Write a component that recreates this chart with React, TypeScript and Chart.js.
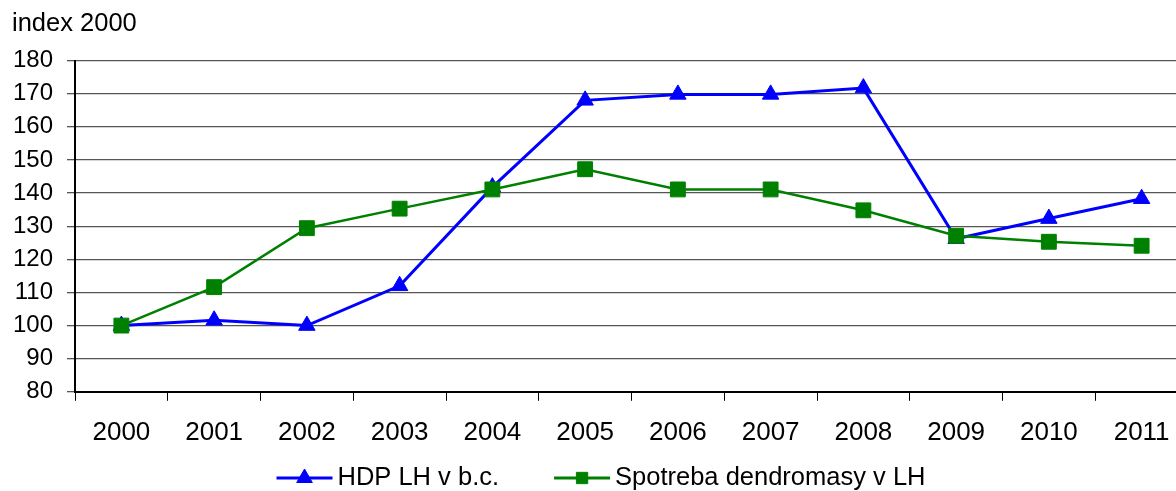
import React, { useEffect, useRef } from 'react';
import { Chart, registerables } from 'chart.js';
import { drawPoint } from 'chart.js/helpers';

Chart.register(...registerables);

// ---- data ----
const years = ['2000', '2001', '2002', '2003', '2004', '2005', '2006', '2007', '2008', '2009', '2010', '2011'];
const hdpValues = [100, 101.6, 100, 112, 141.8, 168, 169.8, 169.8, 171.7, 126.2, 132.3, 138.3];
const dendroValues = [100, 111.6, 129.4, 135.3, 141.1, 147.2, 141.1, 141.1, 134.8, 127.1, 125.3, 124.1];
const seriesLabels = ['HDP LH v b.c.', 'Spotreba dendromasy v LH'];
const axisTitle = 'index 2000';
const yMin = 80;
const yMax = 180;
const yStep = 10;

const FONT = "'Liberation Sans', Arial, sans-serif";
const BLUE = '#0000ff';
const GREEN = '#008000';

const LEGEND_CENTER_X = 601;
const LEGEND_Y = 478;
const legendMarkerRadius = [9, 8];

const lineLegend = {
  id: 'lineLegend',
  afterDraw(chart: any) {
    const ctx = chart.ctx as CanvasRenderingContext2D;
    const ds = chart.data.datasets as any[];
    ctx.save();
    ctx.font = `25.5px ${FONT}`;
    const lineW = 56;
    const gapText = 5;
    const gapItem = 55;
    const widths = ds.map((d) => lineW + gapText + ctx.measureText(d.label).width);
    const total = widths.reduce((a, b) => a + b, 0) + gapItem * (ds.length - 1);
    let x = LEGEND_CENTER_X - total / 2;
    const y = LEGEND_Y;
    ds.forEach((d, i) => {
      ctx.strokeStyle = d.borderColor;
      ctx.lineWidth = 3;
      ctx.beginPath();
      ctx.moveTo(x, y);
      ctx.lineTo(x + lineW, y);
      ctx.stroke();
      ctx.fillStyle = d.pointBackgroundColor;
      ctx.strokeStyle = d.pointBorderColor;
      ctx.lineWidth = 1;
      drawPoint(ctx, { pointStyle: d.pointStyle, radius: legendMarkerRadius[i], borderWidth: 1, rotation: 0 } as any, x + lineW / 2, y);
      ctx.fillStyle = '#000';
      ctx.textBaseline = 'middle';
      ctx.textAlign = 'left';
      ctx.fillText(d.label, x + lineW + gapText, y);
      x += widths[i] + gapItem;
    });
    ctx.restore();
  },
};

export default function App() {
  const canvasRef = useRef<HTMLCanvasElement | null>(null);

  useEffect(() => {
    if (!canvasRef.current) return;
    const chart = new Chart(canvasRef.current, {
      type: 'line',
      data: {
        labels: years,
        datasets: [
          {
            label: seriesLabels[0],
            data: hdpValues,
            borderColor: BLUE,
            backgroundColor: BLUE,
            pointBackgroundColor: BLUE,
            pointBorderColor: BLUE,
            borderWidth: 3,
            pointStyle: 'triangle',
            pointRadius: 9.5,
            pointBorderWidth: 1,
            tension: 0,
            fill: false,
            order: 1,
          },
          {
            label: seriesLabels[1],
            data: dendroValues,
            borderColor: GREEN,
            backgroundColor: GREEN,
            pointBackgroundColor: GREEN,
            pointBorderColor: GREEN,
            borderWidth: 2.5,
            pointStyle: 'rect',
            pointRadius: 10.5,
            pointBorderWidth: 1,
            tension: 0,
            fill: false,
            order: 0,
          },
        ],
      },
      options: {
        responsive: false,
        animation: false,
        layout: { padding: { left: 12, right: 12, top: 0, bottom: 27 } },
        plugins: {
          legend: { display: false },
          tooltip: { enabled: false },
          title: {
            display: true,
            text: axisTitle,
            align: 'start',
            color: '#000',
            font: { family: FONT, size: 25.5, weight: 'normal' },
            padding: { top: 9, bottom: 21 },
          },
        },
        scales: {
          x: {
            offset: true,
            grid: { offset: true, drawOnChartArea: false, drawTicks: true, tickLength: 9, color: '#000', lineWidth: 1 },
            border: { color: '#000', width: 2 },
            ticks: { color: '#000', font: { family: FONT, size: 26 }, padding: 16, maxRotation: 0, autoSkip: false },
          },
          y: {
            min: yMin,
            max: yMax,
            afterFit: (s: any) => {
              s.width = 63;
            },
            ticks: { stepSize: yStep, autoSkip: false, color: '#000', font: { family: FONT, size: 24 }, padding: 14 },
            grid: { color: '#555', lineWidth: 1.3, tickLength: 8, drawTicks: true },
            border: { color: '#000', width: 2 },
          },
        },
      },
      plugins: [lineLegend],
    } as any);
    return () => chart.destroy();
  }, []);

  return (
    <div style={{ position: 'fixed', left: 0, top: 0, width: 1176, height: 491, overflow: 'hidden', background: '#fff' }}>
      <canvas ref={canvasRef} width={1200} height={491} style={{ display: 'block' }} />
    </div>
  );
}
